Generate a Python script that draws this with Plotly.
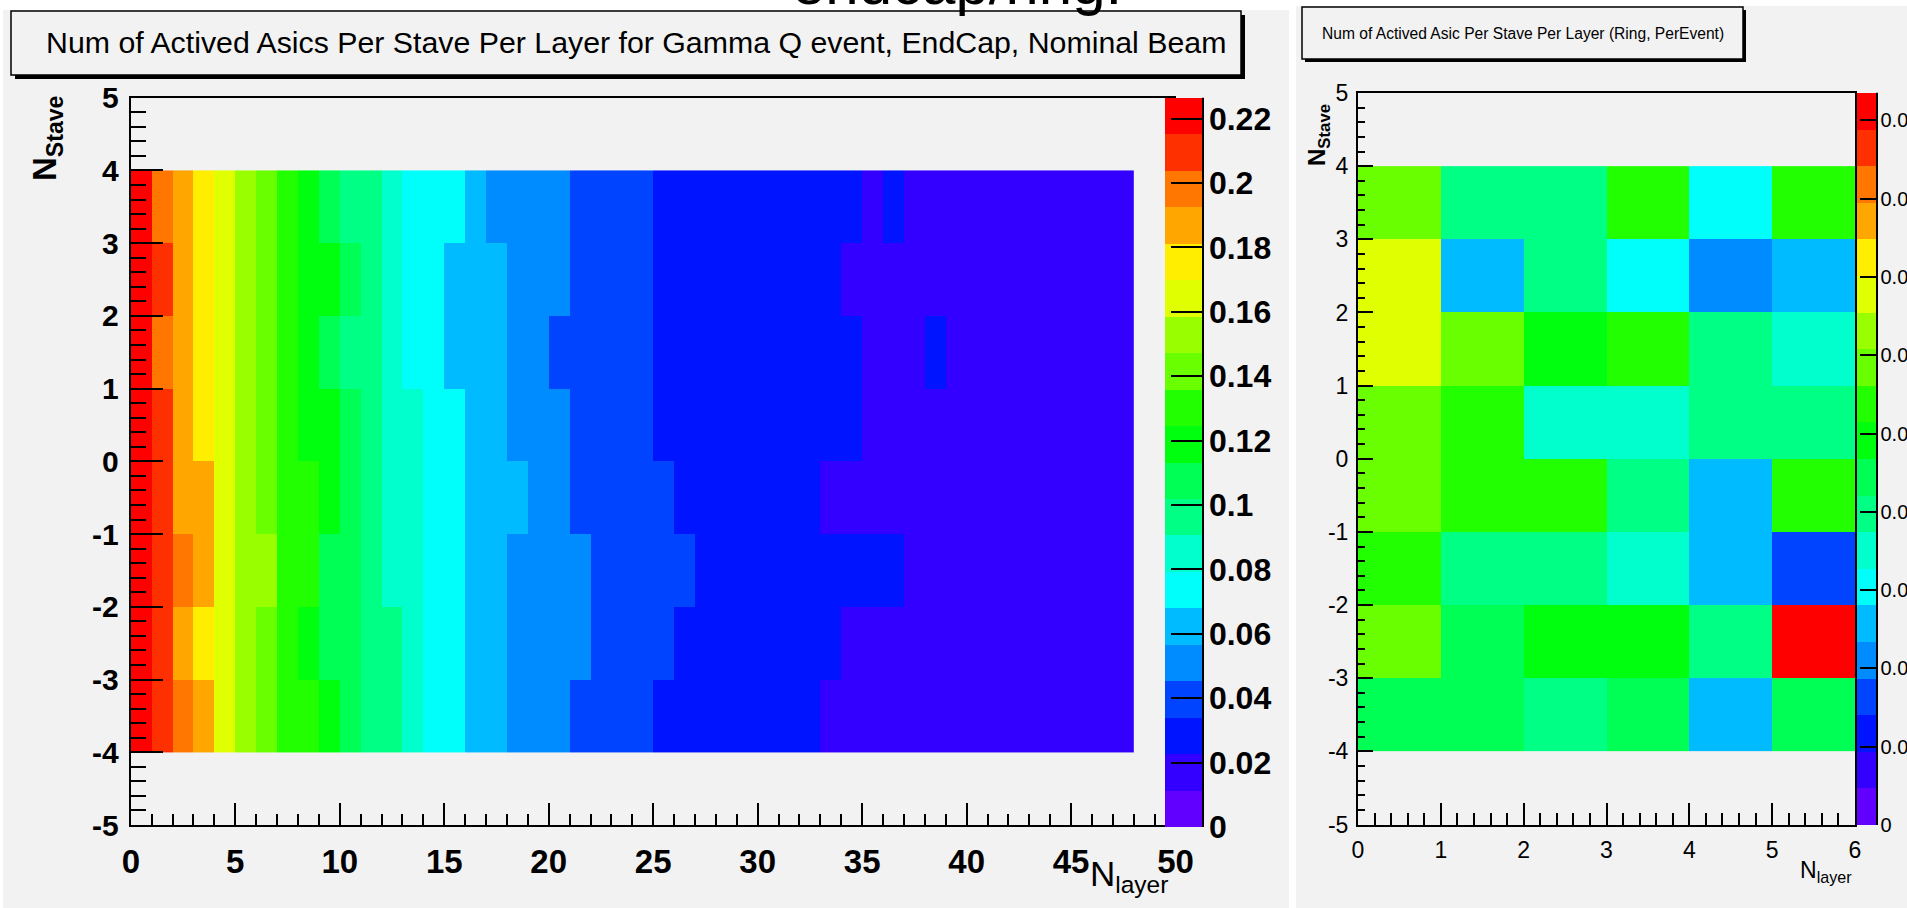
import plotly.graph_objects as go

W, H = 1907, 908

# ---------------- data ----------------
# EndCap panel: N_layer bins 0..48, N_Stave bins -4..4
endcap_layer_edges = list(range(0, 49))
endcap_stave_edges = list(range(-4, 5))
# rows listed from top (stave 3..4) to bottom (stave -4..-3)
endcap_rows = [
    [0.221, 0.198, 0.187, 0.175, 0.164, 0.153, 0.142, 0.130, 0.119, 0.108,
     0.096, 0.096, 0.085, 0.074, 0.074, 0.074, 0.062, 0.051, 0.051, 0.051,
     0.051, 0.040, 0.040, 0.040, 0.040, 0.028, 0.028, 0.028, 0.028, 0.028,
     0.028, 0.028, 0.028, 0.028, 0.028, 0.017, 0.028, 0.017, 0.017, 0.017,
     0.017, 0.017, 0.017, 0.017, 0.017, 0.017, 0.017, 0.017],
    [0.221, 0.209, 0.187, 0.175, 0.164, 0.153, 0.142, 0.130, 0.119, 0.119,
     0.108, 0.096, 0.085, 0.074, 0.074, 0.062, 0.062, 0.062, 0.051, 0.051,
     0.051, 0.040, 0.040, 0.040, 0.040, 0.028, 0.028, 0.028, 0.028, 0.028,
     0.028, 0.028, 0.028, 0.028, 0.017, 0.017, 0.017, 0.017, 0.017, 0.017,
     0.017, 0.017, 0.017, 0.017, 0.017, 0.017, 0.017, 0.017],
    [0.221, 0.198, 0.187, 0.175, 0.164, 0.153, 0.142, 0.130, 0.119, 0.108,
     0.096, 0.096, 0.085, 0.074, 0.074, 0.062, 0.062, 0.062, 0.051, 0.051,
     0.040, 0.040, 0.040, 0.040, 0.040, 0.028, 0.028, 0.028, 0.028, 0.028,
     0.028, 0.028, 0.028, 0.028, 0.028, 0.017, 0.017, 0.017, 0.028, 0.017,
     0.017, 0.017, 0.017, 0.017, 0.017, 0.017, 0.017, 0.017],
    [0.221, 0.209, 0.187, 0.175, 0.164, 0.153, 0.142, 0.130, 0.119, 0.119,
     0.108, 0.096, 0.085, 0.085, 0.074, 0.074, 0.062, 0.062, 0.051, 0.051,
     0.051, 0.040, 0.040, 0.040, 0.040, 0.028, 0.028, 0.028, 0.028, 0.028,
     0.028, 0.028, 0.028, 0.028, 0.028, 0.017, 0.017, 0.017, 0.017, 0.017,
     0.017, 0.017, 0.017, 0.017, 0.017, 0.017, 0.017, 0.017],
    [0.221, 0.209, 0.187, 0.187, 0.164, 0.153, 0.142, 0.130, 0.130, 0.119,
     0.108, 0.096, 0.085, 0.085, 0.074, 0.074, 0.062, 0.062, 0.062, 0.051,
     0.051, 0.040, 0.040, 0.040, 0.040, 0.040, 0.028, 0.028, 0.028, 0.028,
     0.028, 0.028, 0.028, 0.017, 0.017, 0.017, 0.017, 0.017, 0.017, 0.017,
     0.017, 0.017, 0.017, 0.017, 0.017, 0.017, 0.017, 0.017],
    [0.221, 0.209, 0.198, 0.187, 0.164, 0.153, 0.153, 0.130, 0.130, 0.108,
     0.108, 0.096, 0.085, 0.085, 0.074, 0.074, 0.062, 0.062, 0.051, 0.051,
     0.051, 0.051, 0.040, 0.040, 0.040, 0.040, 0.040, 0.028, 0.028, 0.028,
     0.028, 0.028, 0.028, 0.028, 0.028, 0.028, 0.028, 0.017, 0.017, 0.017,
     0.017, 0.017, 0.017, 0.017, 0.017, 0.017, 0.017, 0.017],
    [0.221, 0.209, 0.187, 0.175, 0.164, 0.153, 0.142, 0.130, 0.119, 0.108,
     0.108, 0.096, 0.096, 0.085, 0.074, 0.074, 0.062, 0.062, 0.051, 0.051,
     0.051, 0.051, 0.040, 0.040, 0.040, 0.040, 0.028, 0.028, 0.028, 0.028,
     0.028, 0.028, 0.028, 0.028, 0.017, 0.017, 0.017, 0.017, 0.017, 0.017,
     0.017, 0.017, 0.017, 0.017, 0.017, 0.017, 0.017, 0.017],
    [0.221, 0.209, 0.198, 0.187, 0.164, 0.153, 0.142, 0.130, 0.130, 0.119,
     0.108, 0.096, 0.096, 0.085, 0.074, 0.074, 0.062, 0.062, 0.051, 0.051,
     0.051, 0.040, 0.040, 0.040, 0.040, 0.028, 0.028, 0.028, 0.028, 0.028,
     0.028, 0.028, 0.028, 0.017, 0.017, 0.017, 0.017, 0.017, 0.017, 0.017,
     0.017, 0.017, 0.017, 0.017, 0.017, 0.017, 0.017, 0.017],
]
endcap_zmax = 0.2264
endcap_ticks = [0, 0.02, 0.04, 0.06, 0.08, 0.1, 0.12, 0.14, 0.16, 0.18, 0.2, 0.22]

# Ring panel: N_layer bins 0..6, N_Stave bins -4..4
ring_layer_edges = list(range(0, 7))
ring_stave_edges = list(range(-4, 5))
ring_rows = [
    [0.0058, 0.0040, 0.0040, 0.0054, 0.0030, 0.0054],
    [0.0068, 0.0026, 0.0040, 0.0030, 0.0021, 0.0026],
    [0.0068, 0.0058, 0.0049, 0.0054, 0.0040, 0.0035],
    [0.0058, 0.0054, 0.0035, 0.0035, 0.0040, 0.0040],
    [0.0058, 0.0054, 0.0054, 0.0040, 0.0026, 0.0054],
    [0.0054, 0.0040, 0.0040, 0.0035, 0.0026, 0.0016],
    [0.0058, 0.0044, 0.0049, 0.0049, 0.0040, 0.0091],
    [0.0044, 0.0044, 0.0040, 0.0044, 0.0026, 0.0044],
]
ring_zmax = 0.00935
ring_ticks = [0, 0.001, 0.002, 0.003, 0.004, 0.005, 0.006, 0.007, 0.008, 0.009]

# axis tick labels (ROOT style, plain hyphen minus)
stave_tickvals = [-5, -4, -3, -2, -1, 0, 1, 2, 3, 4, 5]
stave_ticktext = ["-5", "-4", "-3", "-2", "-1", "0", "1", "2", "3", "4", "5"]

# ---------------- style ----------------
palette = ["#6200ff", "#3300ff", "#0014ff", "#0044ff", "#008bff", "#00bbff",
           "#00fffb", "#00ffcc", "#00ff85", "#00ff55", "#00ff0e", "#22ff00",
           "#69ff00", "#99ff00", "#e0ff00", "#ffee00", "#ffa700", "#ff7700",
           "#ff3000", "#ff0000"]


def step_scale(cols):
    n = len(cols)
    cs = []
    for i, c in enumerate(cols):
        cs.append([i / n, c])
        cs.append([(i + 1) / n, c])
    return cs


def fx(p):
    return p / W


def fy(p):
    return 1 - p / H


GRAY = "#f2f2f2"
SANS = "Liberation Sans, Arial, Helvetica, sans-serif"
cs = step_scale(palette)

fig = go.Figure()

fig.add_trace(go.Heatmap(
    x=endcap_layer_edges, y=endcap_stave_edges, z=endcap_rows[::-1],
    zmin=0, zmax=endcap_zmax, colorscale=cs, xaxis="x", yaxis="y",
    hoverinfo="skip",
    colorbar=dict(
        x=fx(1165), xanchor="left", y=fy(827), yanchor="bottom",
        len=(827 - 97.7) / H, lenmode="fraction",
        thickness=37, thicknessmode="pixels", xpad=0, ypad=0,
        outlinewidth=0, bgcolor="rgba(0,0,0,0)",
        ticks="inside", ticklen=31, tickwidth=2, tickcolor="black",
        tickmode="array", tickvals=endcap_ticks,
        tickfont=dict(family=SANS, size=32, color="black", weight="bold"),
    ),
))

fig.add_trace(go.Heatmap(
    x=ring_layer_edges, y=ring_stave_edges, z=ring_rows[::-1],
    zmin=0, zmax=ring_zmax, colorscale=cs, xaxis="x2", yaxis="y2",
    hoverinfo="skip",
    colorbar=dict(
        x=fx(1857), xanchor="left", y=fy(825), yanchor="bottom",
        len=(825 - 92.7) / H, lenmode="fraction",
        thickness=19, thicknessmode="pixels", xpad=0, ypad=0,
        outlinewidth=0, bgcolor="rgba(0,0,0,0)",
        ticks="inside", ticklen=16, tickwidth=2, tickcolor="black",
        tickmode="array", tickvals=ring_ticks,
        ticklabeloverflow="allow",
        tickfont=dict(family=SANS, size=20, color="black"),
    ),
))

axis_common = dict(showgrid=False, zeroline=False, showline=True,
                   linecolor="black", linewidth=2, ticks="inside",
                   tickcolor="black", tickwidth=2)

fig.update_layout(
    width=W, height=H,
    margin=dict(l=0, r=0, t=0, b=0, autoexpand=False),
    paper_bgcolor="white", plot_bgcolor=GRAY,
    showlegend=False,
    xaxis=dict(axis_common, domain=[fx(130.8), fx(1175.6)], range=[0, 50],
               anchor="y", mirror=True, ticklen=22, tick0=0, dtick=5,
               ticklabelstandoff=6,
               minor=dict(dtick=1, ticklen=11, tickwidth=1.5, ticks="inside",
                          tickcolor="black", showgrid=False),
               tickfont=dict(family=SANS, size=33, color="black", weight="bold")),
    yaxis=dict(axis_common, domain=[fy(825), fy(97.7)], range=[-5, 5],
               anchor="x", ticklen=32, tickmode="array",
               tickvals=stave_tickvals, ticktext=stave_ticktext,
               ticklabelstandoff=4,
               minor=dict(dtick=0.2, ticklen=15, tickwidth=1.5, ticks="inside",
                          tickcolor="black", showgrid=False),
               tickfont=dict(family=SANS, size=30, color="black", weight="bold")),
    xaxis2=dict(axis_common, domain=[fx(1358), fx(1855)], range=[0, 6],
                anchor="y2", mirror=True, ticklen=22, tick0=0, dtick=1,
                ticklabelstandoff=4,
                minor=dict(dtick=0.2, ticklen=12, tickwidth=1.5, ticks="inside",
                           tickcolor="black", showgrid=False),
                tickfont=dict(family=SANS, size=23, color="black")),
    yaxis2=dict(axis_common, domain=[fy(824.5), fy(93)], range=[-5, 5],
                anchor="x2", mirror=True, ticklen=15, tickmode="array",
                tickvals=stave_tickvals, ticktext=stave_ticktext,
                ticklabelstandoff=3,
                minor=dict(dtick=0.2, ticklen=7, tickwidth=1.5, ticks="inside",
                           tickcolor="black", showgrid=False),
                tickfont=dict(family=SANS, size=23, color="black")),
)

shapes = [
    # panel backgrounds
    dict(type="rect", xref="paper", yref="paper", x0=fx(3), x1=fx(1289),
         y0=fy(908), y1=fy(10), fillcolor=GRAY, line=dict(width=0), layer="below"),
    dict(type="rect", xref="paper", yref="paper", x0=fx(1296), x1=fx(1907),
         y0=fy(908), y1=fy(6), fillcolor=GRAY, line=dict(width=0), layer="below"),
    # left title box (shadow + box)
    dict(type="rect", xref="paper", yref="paper", x0=fx(15), x1=fx(1245),
         y0=fy(79), y1=fy(15), fillcolor="black", line=dict(width=0), layer="below"),
    dict(type="rect", xref="paper", yref="paper", x0=fx(11), x1=fx(1241),
         y0=fy(75), y1=fy(11), fillcolor=GRAY, line=dict(color="black", width=1.5),
         layer="below"),
    # right title box
    dict(type="rect", xref="paper", yref="paper", x0=fx(1305), x1=fx(1746),
         y0=fy(62), y1=fy(10), fillcolor="black", line=dict(width=0), layer="below"),
    dict(type="rect", xref="paper", yref="paper", x0=fx(1302), x1=fx(1743),
         y0=fy(59), y1=fy(7), fillcolor=GRAY, line=dict(color="black", width=1.5),
         layer="below"),
    # colorbar axis lines
    dict(type="line", xref="paper", yref="paper", x0=fx(1203), x1=fx(1203),
         y0=fy(827), y1=fy(97.7), line=dict(color="black", width=2), layer="above"),
    dict(type="line", xref="paper", yref="paper", x0=fx(1877), x1=fx(1877),
         y0=fy(825), y1=fy(92.7), line=dict(color="black", width=2), layer="above"),
]
fig.update_layout(shapes=shapes)

annotations = [
    dict(text="endcap/ring.", x=fx(957), y=fy(18.7), xanchor="center",
         yanchor="bottom", font=dict(family=SANS, size=60, color="black")),
    dict(text="Num of Actived Asics Per Stave Per Layer for Gamma Q event, EndCap, Nominal Beam",
         x=fx(636), y=fy(43), xanchor="center", yanchor="middle",
         font=dict(family=SANS, size=30.3, color="black")),
    dict(text="Num of Actived Asic Per Stave Per Layer (Ring, PerEvent)",
         x=fx(1523), y=fy(33), xanchor="center", yanchor="middle",
         font=dict(family=SANS, size=15.6, color="black")),
    dict(text="N<sub>Stave</sub>", textangle=-90, x=fx(47), y=fy(138),
         xanchor="center", yanchor="middle",
         font=dict(family=SANS, size=33, color="black", weight="bold")),
    dict(text="N<sub>layer</sub>", x=fx(1170), y=fy(852), xanchor="right",
         yanchor="top", font=dict(family=SANS, size=35, color="black")),
    dict(text="N<sub>Stave</sub>", textangle=-90, x=fx(1318), y=fy(135),
         xanchor="center", yanchor="middle",
         font=dict(family=SANS, size=24, color="black", weight="bold")),
    dict(text="N<sub>layer</sub>", x=fx(1854), y=fy(855), xanchor="right",
         yanchor="top", font=dict(family=SANS, size=23, color="black")),
]
for a in annotations:
    a.update(xref="paper", yref="paper", showarrow=False)
fig.update_layout(annotations=annotations)

fig.write_html("out.html")
